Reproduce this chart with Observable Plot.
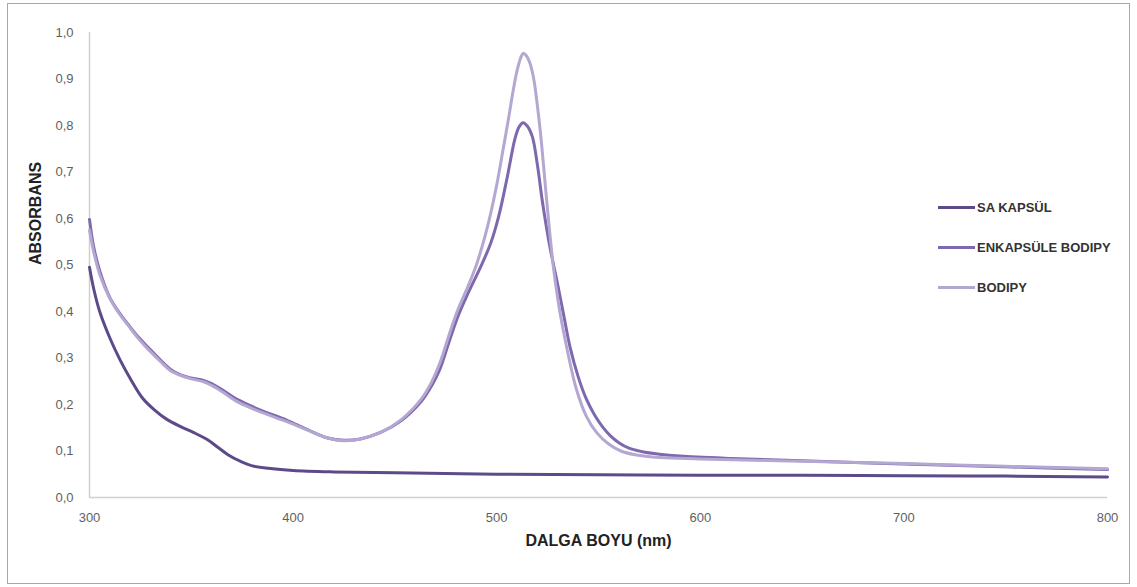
<!DOCTYPE html>
<html>
<head>
<meta charset="utf-8">
<script src="https://cdn.jsdelivr.net/npm/d3@7"></script>
<script src="https://cdn.jsdelivr.net/npm/@observablehq/plot@0.6"></script>
<style>
  body { margin: 0; background: #fff; }
  #wrap { position: relative; width: 1137px; height: 587px; font-family: "Liberation Sans", Arial, sans-serif; }
  #border { position: absolute; left: 7px; top: 3px; width: 1121px; height: 579px; border: 1.5px solid #a8a8a8; pointer-events: none; }
  .leg { position: absolute; left: 938px; height: 16px; display: flex; align-items: center; font-weight: bold; font-size: 13px; color: #333; white-space: nowrap; }
  .leg .sw { display: inline-block; width: 37px; height: 3px; margin-right: 2px; }
</style>
</head>
<body>
<div id="wrap"><div id="border"></div></div>
<script>
// UV-Vis absorbance spectra (wavelength in nm, absorbance)
const saKapsulNm  = [300, 302, 305, 310, 315, 320, 326, 332, 338, 345, 351, 358, 363, 368, 374, 380, 390, 400, 420, 450, 500, 550, 600, 650, 700, 750, 800];
const saKapsulAbs = [0.495, 0.45, 0.40, 0.343, 0.296, 0.256, 0.214, 0.188, 0.168, 0.152, 0.140, 0.124, 0.108, 0.092, 0.078, 0.068, 0.062, 0.058, 0.055, 0.053, 0.050, 0.049, 0.048, 0.048, 0.047, 0.046, 0.044];

const enkapsuleNm  = [300, 302, 305, 310, 315, 319, 324, 329, 335, 340, 345, 350, 356, 360, 365, 373, 384, 397, 407, 417, 425, 433, 443, 453, 463, 468, 472, 477, 481, 486, 492, 497, 501, 505, 509, 511, 513, 515, 517.5, 520, 522.5, 526, 530, 533, 536, 540, 544, 548, 552, 556, 560, 565, 571, 580, 590, 615, 650, 700, 750, 800];
const enkapsuleAbs = [0.598, 0.54, 0.488, 0.430, 0.395, 0.372, 0.345, 0.322, 0.295, 0.275, 0.263, 0.257, 0.252, 0.245, 0.232, 0.210, 0.188, 0.166, 0.146, 0.128, 0.123, 0.126, 0.140, 0.165, 0.207, 0.240, 0.275, 0.340, 0.390, 0.440, 0.495, 0.546, 0.605, 0.685, 0.772, 0.797, 0.806, 0.799, 0.776, 0.715, 0.635, 0.542, 0.457, 0.390, 0.324, 0.260, 0.212, 0.178, 0.152, 0.132, 0.118, 0.106, 0.099, 0.093, 0.089, 0.084, 0.079, 0.072, 0.066, 0.060];

const bodipyNm  = [300, 302, 305, 310, 315, 319, 324, 329, 335, 340, 345, 350, 356, 360, 365, 373, 384, 397, 407, 417, 425, 433, 443, 453, 463, 468, 472, 477, 481, 486, 490, 494, 497, 500, 503, 506, 508, 510, 512, 513, 514, 516, 518, 520, 522, 524, 526, 528, 531, 535, 539, 544, 549, 555, 561, 568, 580, 600, 650, 700, 750, 800];
const bodipyAbs = [0.575, 0.53, 0.48, 0.428, 0.393, 0.370, 0.342, 0.318, 0.292, 0.272, 0.262, 0.255, 0.249, 0.241, 0.228, 0.205, 0.184, 0.163, 0.145, 0.128, 0.122, 0.126, 0.140, 0.167, 0.212, 0.248, 0.288, 0.355, 0.405, 0.455, 0.500, 0.558, 0.610, 0.672, 0.745, 0.820, 0.873, 0.918, 0.948, 0.955, 0.953, 0.938, 0.905, 0.842, 0.762, 0.665, 0.572, 0.490, 0.400, 0.310, 0.235, 0.175, 0.140, 0.115, 0.100, 0.092, 0.086, 0.083, 0.078, 0.073, 0.067, 0.062];

const seriesNames  = ["SA KAPSÜL", "ENKAPSÜLE BODIPY", "BODIPY"];
const seriesColors = ["#5d4a88", "#7e68ae", "#b4a7d2"];
const xTicks = [300, 400, 500, 600, 700, 800];
const yTicks = [0, 0.1, 0.2, 0.3, 0.4, 0.5, 0.6, 0.7, 0.8, 0.9, 1.0];
const xTitle = "DALGA BOYU (nm)";
const yTitle = "ABSORBANS";

const toRows = (nm, abs, name) => nm.map((w, i) => ({ nm: w, abs: abs[i], series: name }));
const rows = {
  sa: toRows(saKapsulNm, saKapsulAbs, seriesNames[0]),
  enk: toRows(enkapsuleNm, enkapsuleAbs, seriesNames[1]),
  bod: toRows(bodipyNm, bodipyAbs, seriesNames[2])
};

const commaFmt = d => d3.format(".1f")(d).replace(".", ",");

const chart = Plot.plot({
  width: 1137,
  height: 587,
  marginLeft: 89,
  marginRight: 30,
  marginTop: 32,
  marginBottom: 90,
  style: { fontFamily: "'Liberation Sans', Arial, sans-serif", fontSize: "13px", color: "#5f5f5f", background: "transparent" },
  x: { domain: [300, 800], ticks: xTicks, tickSize: 0, tickPadding: 15, label: null },
  y: { domain: [0, 1], ticks: yTicks, tickFormat: commaFmt, tickSize: 0, tickPadding: 16, label: null },
  marks: [
    Plot.ruleY([0], { stroke: "#d0d0d0", strokeWidth: 1.5 }),
    Plot.ruleX([300], { stroke: "#d0d0d0", strokeWidth: 1.5 }),
    Plot.line(rows.sa,  { x: "nm", y: "abs", stroke: seriesColors[0], strokeWidth: 3, curve: "catmull-rom" }),
    Plot.line(rows.enk, { x: "nm", y: "abs", stroke: seriesColors[1], strokeWidth: 3, curve: "catmull-rom" }),
    Plot.line(rows.bod, { x: "nm", y: "abs", stroke: seriesColors[2], strokeWidth: 3, curve: "catmull-rom" }),
    Plot.text([xTitle], { frameAnchor: "bottom", dy: 48, fontWeight: "bold", fontSize: 16, fill: "#222" }),
    Plot.text([yTitle], { frameAnchor: "left", dx: -54, rotate: -90, fontWeight: "bold", fontSize: 16, fill: "#222" })
  ]
});

const wrap = document.getElementById("wrap");
wrap.insertBefore(chart, wrap.firstChild);

// legend on the right
const legendY = [207, 247, 287];
seriesNames.forEach((name, i) => {
  const row = document.createElement("div");
  row.className = "leg";
  row.style.top = (legendY[i] - 8) + "px";
  const sw = document.createElement("span");
  sw.className = "sw";
  sw.style.background = seriesColors[i];
  row.appendChild(sw);
  row.appendChild(document.createTextNode(name));
  wrap.appendChild(row);
});
</script>
</body>
</html>
